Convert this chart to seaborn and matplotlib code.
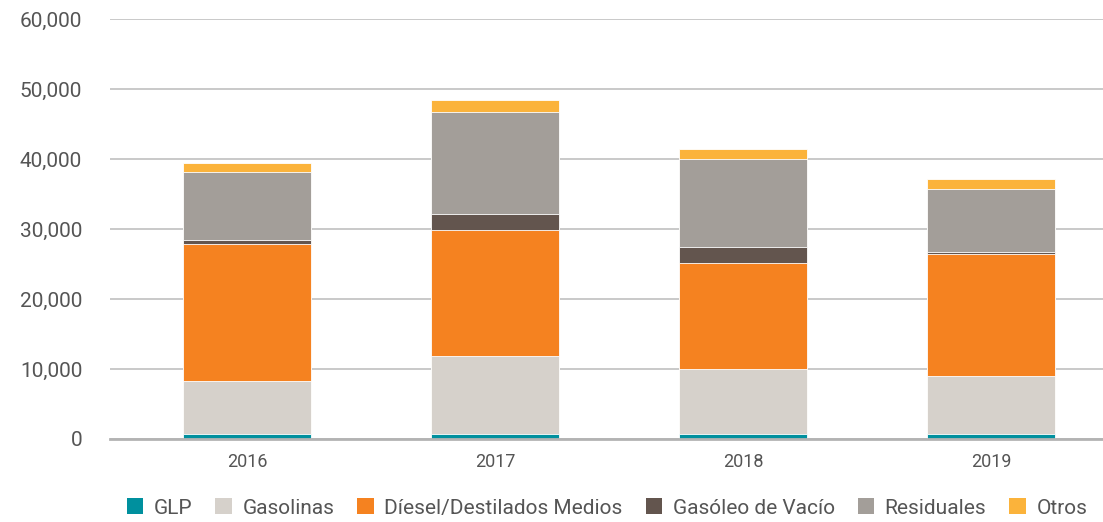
import matplotlib
matplotlib.use("Agg")
import matplotlib.pyplot as plt
from matplotlib.patches import Patch
import seaborn as sns
import pandas as pd
import numpy as np

years = ["2016", "2017", "2018", "2019"]
series_names = ["GLP", "Gasolinas", "Díesel/Destilados Medios", "Gasóleo de Vacío", "Residuales", "Otros"]
glp = [700, 700, 700, 700]
gasolinas = [7540, 11100, 9300, 8260]
diesel = [19560, 18000, 15100, 17540]
gasoleo = [600, 2300, 2300, 200]
residuales = [9700, 14600, 12600, 9000]
otros = [1300, 1700, 1400, 1400]
colors = ["#00909e", "#d6d1cb", "#f58220", "#63554e", "#a39e99", "#fbb33b"]
yticks = [0, 10000, 20000, 30000, 40000, 50000, 60000]

sns.set_theme(style="white")
plt.rcParams["font.family"] = ["Roboto", "DejaVu Sans"]

values = [glp, gasolinas, diesel, gasoleo, residuales, otros]
cum = np.cumsum(np.array(values), axis=0)

fig = plt.figure(figsize=(11.03, 5.22), dpi=100)
ax = fig.add_axes([110 / 1103, (522 - 439) / 522, (1103 - 110) / 1103, (439 - 19) / 522])

for i in reversed(range(len(series_names))):
    df = pd.DataFrame({"year": years, "value": cum[i]})
    sns.barplot(data=df, x="year", y="value", color=colors[i], width=0.516,
                saturation=1, ax=ax, edgecolor="white", linewidth=0.6, zorder=3)

ax.set_xlim(-(247 - 110) / 248, 3 + (1103 - 991) / 248)
ax.set_ylim(0, 60000)
ax.set_yticks(yticks)
ax.set_yticklabels([f"{v:,}" for v in yticks])
ax.set_xlabel("")
ax.set_ylabel("")
ax.grid(axis="y", color="#c9c9c9", linewidth=1.4, zorder=0)
ax.set_axisbelow(True)
for s in ["top", "right", "left"]:
    ax.spines[s].set_visible(False)
ax.spines["bottom"].set_color("#b3b3b3")
ax.spines["bottom"].set_linewidth(2)
ax.spines["bottom"].set_zorder(4)
ax.tick_params(axis="y", length=0, pad=20, labelsize=15, labelcolor="#555555")
ax.tick_params(axis="x", length=0, pad=10, labelsize=13, labelcolor="#555555")

handles = [Patch(facecolor=c, edgecolor="none") for c in colors]
fig.legend(handles, series_names, loc="center", bbox_to_anchor=(607 / 1103, 1 - 508 / 522),
           ncol=6, frameon=False, fontsize=15, handlelength=0.8, handleheight=0.8,
           handletextpad=0.5, columnspacing=1.1, labelcolor="#555555")

fig.savefig("out.png", dpi=100)
